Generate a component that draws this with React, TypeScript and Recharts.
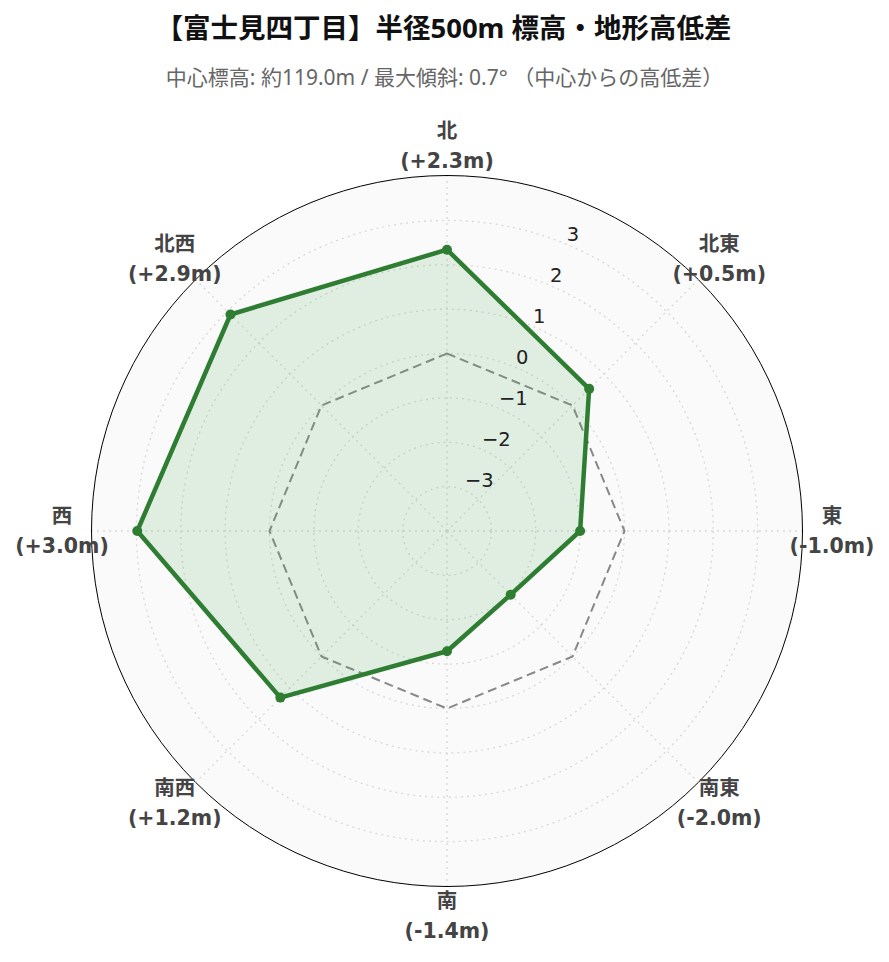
import { RadarChart, Radar, PolarGrid, PolarAngleAxis, PolarRadiusAxis } from "recharts";

// directions, clockwise from north
const directions = ["北", "北東", "東", "南東", "南", "南西", "西", "北西"];
const diffLabels = ["+2.3", "+0.5", "-1.0", "-2.0", "-1.4", "+1.2", "+3.0", "+2.9"];
// plotted elevation difference from centre (m)
const elevationDiff = [2.34, 0.53, -1.0, -1.97, -1.29, 1.31, 2.98, 2.9];
const zeroLine = [0, 0, 0, 0, 0, 0, 0, 0];
const radiusTicks = [-3, -2, -1, 0, 1, 2, 3];

const W = 889;
const H = 962;
const CX = 447;
const CY = 531;
const R = 355;
const LABEL_R = 385;

const data = directions.map((dir, i) => ({
  dir,
  label: diffLabels[i],
  diff: elevationDiff[i],
  zero: zeroLine[i],
}));

const AngleTick = (props: any) => {
  const { payload } = props;
  const i = directions.indexOf(payload.value);
  const rad = (-payload.coordinate * Math.PI) / 180;
  const x = CX + LABEL_R * Math.cos(rad);
  const y = CY + LABEL_R * Math.sin(rad);
  const font = {
    fontSize: 20.5,
    fontWeight: "bold",
    fill: "#444",
    fontFamily: "'DejaVu Sans', 'Noto Sans CJK JP', sans-serif",
  };
  return (
    <g>
      <text x={x} y={y - 15} textAnchor="middle" dominantBaseline="central" {...font}>
        {payload.value}
      </text>
      <text x={x} y={y + 15} textAnchor="middle" dominantBaseline="central" {...font}>
        {`(${diffLabels[i]}m)`}
      </text>
    </g>
  );
};

const RadiusTick = (props: any) => {
  const { x, y, payload } = props;
  const v = payload.value;
  const txt = v < 0 ? `\u2212${Math.abs(v)}` : `${v}`;
  return (
    <text
      x={x + 1}
      y={y - 3}
      textAnchor="start"
      fontSize={19.5}
      fill="#222"
      fontFamily="'DejaVu Sans', sans-serif"
    >
      {txt}
    </text>
  );
};

export default function App() {
  return (
    <div
      style={{
        position: "absolute",
        left: 0,
        top: 0,
        width: W,
        height: H,
        background: "#fff",
        fontFamily: "'Noto Sans', 'Noto Sans CJK JP', sans-serif",
      }}
    >
      <div
        style={{
          position: "absolute",
          left: -5,
          top: 10,
          width: W + 8,
          textAlign: "center",
          fontSize: 27.5,
          lineHeight: "36px",
          fontWeight: "bold",
          color: "#111",
        }}
      >
        【富士見四丁目】半径500m 標高・地形高低差
      </div>
      <div
        style={{
          position: "absolute",
          left: 4,
          top: 62,
          width: W - 8,
          textAlign: "center",
          fontSize: 21,
          lineHeight: "30px",
          color: "#666",
        }}
      >
        中心標高: 約119.0m / 最大傾斜: 0.7° （中心からの高低差）
      </div>

      {/* plot background disc with the black outer ring */}
      <div
        style={{
          position: "absolute",
          left: CX - R - 1,
          top: CY - R - 1,
          width: 2 * R,
          height: 2 * R,
          borderRadius: "50%",
          background: "#fafafa",
          border: "1.5px solid #000",
        }}
      />

      <div style={{ position: "absolute", left: 0, top: 0 }}>
        <RadarChart
          width={W}
          height={H}
          data={data}
          cx={CX}
          cy={CY}
          outerRadius={R}
          innerRadius={0}
          startAngle={90}
          endAngle={-270}
        >
          <PolarGrid
            gridType="circle"
            stroke="#d8d8d8"
            strokeWidth={1.3}
            strokeDasharray="2 4"
          />
          <PolarAngleAxis
            dataKey="dir"
            axisLine={false}
            tickLine={false}
            tick={<AngleTick />}
          />
          <PolarRadiusAxis
            type="number"
            angle={67.5}
            domain={[-3.9, 3.9]}
            ticks={radiusTicks as any}
            allowDataOverflow
            axisLine={false}
            tickLine={false}
            tick={<RadiusTick />}
          />
          <Radar
            dataKey="zero"
            stroke="#888"
            strokeWidth={2}
            strokeDasharray="9 5"
            fill="none"
            fillOpacity={0}
            dot={false}
            isAnimationActive={false}
          />
          <Radar
            dataKey="diff"
            stroke="#2e7d32"
            strokeWidth={4.5}
            strokeLinejoin="round"
            fill="#4caf50"
            fillOpacity={0.15}
            dot={{ r: 5, fill: "#2e7d32", stroke: "#2e7d32", strokeWidth: 0, fillOpacity: 1 }}
            isAnimationActive={false}
          />
        </RadarChart>
      </div>
    </div>
  );
}
